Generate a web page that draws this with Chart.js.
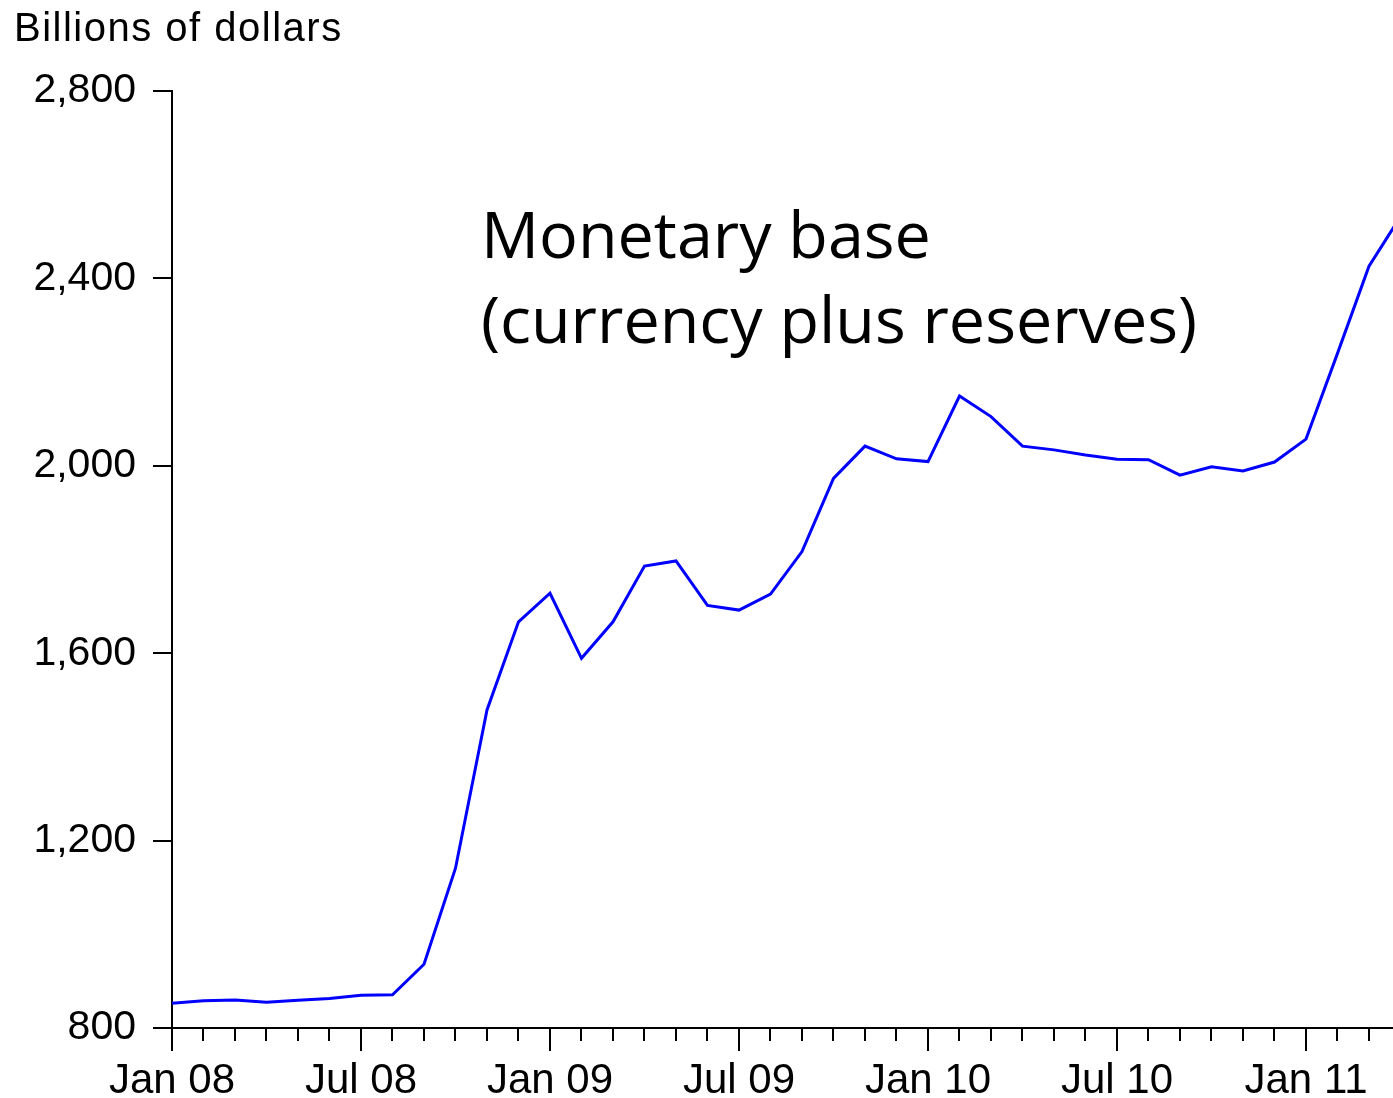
<!DOCTYPE html>
<html>
<head>
<meta charset="utf-8">
<title>Monetary base</title>
<script src="https://cdn.jsdelivr.net/npm/chart.js@4.4.0/dist/chart.umd.min.js"></script>
<style>
    html, body { margin: 0; padding: 0; background: #fff; }
    canvas { display: block; }
</style>
</head>
<body>
<canvas id="baseChart" width="1393" height="1098"></canvas>
<script>
// monthly observations, Jan 08 .. Apr 11
const months = [
    'Jan 08', 'Feb 08', 'Mar 08', 'Apr 08', 'May 08', 'Jun 08', 'Jul 08', 'Aug 08', 'Sep 08', 'Oct 08', 'Nov 08', 'Dec 08',
    'Jan 09', 'Feb 09', 'Mar 09', 'Apr 09', 'May 09', 'Jun 09', 'Jul 09', 'Aug 09', 'Sep 09', 'Oct 09', 'Nov 09', 'Dec 09',
    'Jan 10', 'Feb 10', 'Mar 10', 'Apr 10', 'May 10', 'Jun 10', 'Jul 10', 'Aug 10', 'Sep 10', 'Oct 10', 'Nov 10', 'Dec 10',
    'Jan 11', 'Feb 11', 'Mar 11', 'Apr 11'
];
const monetaryBase = [
    853, 858, 860, 855, 859, 863, 870, 871, 936, 1141, 1479, 1667,
    1728, 1589, 1667, 1786, 1797, 1702, 1692, 1726, 1817, 1973, 2042, 2015,
    2009, 2149, 2105, 2042, 2034, 2023, 2014, 2013, 1980, 1998, 1989, 2008,
    2057, 2240, 2426, 2532
];
const yTicks = [800, 1200, 1600, 2000, 2400, 2800];
const unitLabel = 'Billions of dollars';
const noteLines = ['Monetary base', '(currency plus reserves)'];

const axisFont = 'Liberation Sans, Arial, sans-serif';

// tick marks: long on Jan/Jul, short otherwise, y ticks outside
const tickMarks = {
    id: 'tickMarks',
    afterDraw(chart) {
        const { ctx, chartArea } = chart;
        const x = chart.scales.x, y = chart.scales.y;
        ctx.save();
        ctx.strokeStyle = '#000';
        ctx.lineWidth = 2;
        ctx.beginPath();
        x.ticks.forEach(t => {
            const px = Math.round(x.getPixelForValue(t.value));
            const len = t.value % 6 === 0 ? 22 : 12;
            ctx.moveTo(px, chartArea.bottom + 1);
            ctx.lineTo(px, chartArea.bottom + 1 + len);
        });
        y.ticks.forEach(t => {
            const py = Math.round(y.getPixelForValue(t.value));
            ctx.moveTo(chartArea.left - 19, py);
            ctx.lineTo(chartArea.left, py);
        });
        ctx.stroke();
        ctx.restore();
    }
};

// unit label top-left and the series note inside the plot
const texts = {
    id: 'texts',
    afterDraw(chart) {
        const ctx = chart.ctx;
        ctx.save();
        ctx.fillStyle = '#000';
        ctx.textAlign = 'left';
        ctx.textBaseline = 'alphabetic';
        ctx.font = '40px ' + axisFont;
        ctx.letterSpacing = '1.5px';
        ctx.fillText(unitLabel, 14, 41);
        ctx.letterSpacing = '0px';

        ctx.font = '64px "Open Sans", sans-serif';
        const w = ctx.measureText(noteLines[1]).width;
        const sx = 716 / w;
        ctx.translate(481, 0);
        ctx.scale(sx, 1);
        ctx.fillText(noteLines[0], 0, 258);
        ctx.fillText(noteLines[1], 0, 343);
        ctx.restore();
    }
};

function drawChart() {
    const ctx = document.getElementById('baseChart').getContext('2d');
    new Chart(ctx, {
        type: 'line',
        data: {
            datasets: [{
                label: 'Monetary base',
                data: monetaryBase.map((v, i) => ({ x: i, y: v })),
                borderColor: '#0000ff',
                borderWidth: 3,
                pointRadius: 0,
                tension: 0,
                fill: false
            }]
        },
        options: {
            responsive: false,
            animation: false,
            events: [],
            layout: { padding: { top: 91, left: 0, right: 0, bottom: 0 } },
            plugins: {
                legend: { display: false },
                tooltip: { enabled: false }
            },
            scales: {
                x: {
                    type: 'linear',
                    min: 0,
                    max: 38.762,
                    afterBuildTicks(scale) {
                        scale.ticks = months.map((m, i) => ({ value: i })).filter(t => t.value <= 38);
                    },
                    afterFit(scale) {
                        scale.height = 70;
                        scale.paddingLeft = 0;
                        scale.paddingRight = 0;
                    },
                    grid: { display: true, drawOnChartArea: false, drawTicks: false },
                    border: { display: true, color: '#000', width: 2 },
                    ticks: {
                        autoSkip: false,
                        maxRotation: 0,
                        padding: 28,
                        color: '#000',
                        font: { family: axisFont, size: 42 },
                        callback: (v) => (v % 6 === 0 ? months[v] : '')
                    }
                },
                y: {
                    min: 800,
                    max: 2800,
                    afterBuildTicks(scale) {
                        scale.ticks = yTicks.map(v => ({ value: v }));
                    },
                    afterFit(scale) {
                        scale.width = 172;
                        scale.paddingTop = 0;
                        scale.paddingBottom = 0;
                    },
                    grid: { display: true, drawOnChartArea: false, drawTicks: false },
                    border: { display: true, color: '#000', width: 2 },
                    ticks: {
                        padding: 36,
                        color: '#000',
                        font: { family: axisFont, size: 41 },
                        callback: (v) => v.toLocaleString('en-US')
                    }
                }
            }
        },
        plugins: [tickMarks, texts]
    });
}

Promise.all([
    document.fonts.load('42px "Liberation Sans"'),
    document.fonts.load('64px "Open Sans"')
]).then(drawChart, drawChart);
</script>
</body>
</html>
